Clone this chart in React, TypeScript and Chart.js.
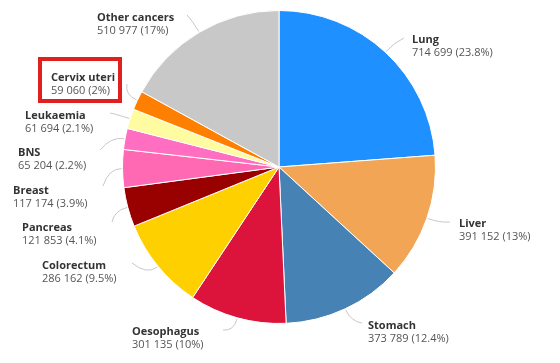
import React, { useEffect, useRef } from "react";
import { Chart, registerables } from "chart.js";

Chart.register(...registerables);

const categories = [
  "Lung",
  "Liver",
  "Stomach",
  "Oesophagus",
  "Colorectum",
  "Pancreas",
  "Breast",
  "BNS",
  "Leukaemia",
  "Cervix uteri",
  "Other cancers",
];
const values = [714699, 391152, 373789, 301135, 286162, 121853, 117174, 65204, 61694, 59060, 510977];
const valueLabels = [
  "714 699 (23.8%)",
  "391 152 (13%)",
  "373 789 (12.4%)",
  "301 135 (10%)",
  "286 162 (9.5%)",
  "121 853 (4.1%)",
  "117 174 (3.9%)",
  "65 204 (2.2%)",
  "61 694 (2.1%)",
  "59 060 (2%)",
  "510 977 (17%)",
];
const colors = [
  "#1E90FF",
  "#F2A655",
  "#4682B4",
  "#DC143C",
  "#FFD000",
  "#990000",
  "#FF69B4",
  "#FF6EC0",
  "#FFFBA0",
  "#FF8000",
  "#C8C8C8",
];

// label layout: [textX, firstLineCenterY, leaderEndX, leaderEndY]
const labelLayout: number[][] = [
  [412, 40, 404, 38],
  [459, 224, 450, 222],
  [368, 326, 362, 323],
  [132, 332, 223, 330],
  [42, 266, 132, 263],
  [22, 228, 112, 222],
  [13, 191, 103, 186],
  [18, 153, 100, 150],
  [25, 116, 110, 113],
  [51, 78, 127, 84],
  [97, 18, 187, 15],
];
const highlightIndex = 9;

const labelPlugin = {
  id: "outLabels",
  afterDraw(chart: any) {
    const ctx = chart.ctx;
    const meta = chart.getDatasetMeta(0);
    ctx.save();
    meta.data.forEach((arc: any, i: number) => {
      const p = arc.getProps(["x", "y", "startAngle", "endAngle", "outerRadius"], true);
      const mid = (p.startAngle + p.endAngle) / 2;
      const cx = Math.cos(mid);
      const cy = Math.sin(mid);
      const sx = p.x + cx * (p.outerRadius + 1);
      const sy = p.y + cy * (p.outerRadius + 1);
      const kx = p.x + cx * (p.outerRadius + 14);
      const ky = p.y + cy * (p.outerRadius + 14);
      const [tx, ty, ex, ey] = labelLayout[i];
      ctx.beginPath();
      ctx.moveTo(sx, sy);
      ctx.quadraticCurveTo(kx, ky, ex, ey);
      ctx.strokeStyle = "#c8c8c8";
      ctx.lineWidth = 1;
      ctx.stroke();

      ctx.textAlign = "left";
      ctx.textBaseline = "middle";
      ctx.fillStyle = "#333333";
      ctx.font = "bold 11px 'Open Sans'";
      ctx.fillText(categories[i], tx, ty);
      ctx.fillStyle = "#555555";
      ctx.font = "11px 'Open Sans'";
      ctx.fillText(valueLabels[i], tx, ty + 13);

      if (i === highlightIndex) {
        ctx.strokeStyle = "#E0201F";
        ctx.lineWidth = 4;
        ctx.strokeRect(40, 59, 80, 42);
      }
    });
    ctx.restore();
  },
};

export default function App() {
  const ref = useRef<HTMLCanvasElement>(null);
  useEffect(() => {
    document.body.style.margin = "0";
    const chart = new Chart(ref.current!, {
      type: "pie",
      data: {
        labels: categories,
        datasets: [
          {
            data: values,
            backgroundColor: colors,
            borderColor: "#ffffff",
            borderWidth: 1,
          },
        ],
      },
      options: {
        responsive: false,
        animation: false,
        layout: { padding: { left: 122, right: 124, top: 10, bottom: 39 } },
        plugins: {
          legend: { display: false },
          tooltip: { enabled: false },
        },
      },
      plugins: [labelPlugin],
    });
    return () => chart.destroy();
  }, []);
  return (
    <div style={{ width: 560, height: 363, background: "#fff" }}>
      <canvas ref={ref} width={560} height={363} />
    </div>
  );
}
